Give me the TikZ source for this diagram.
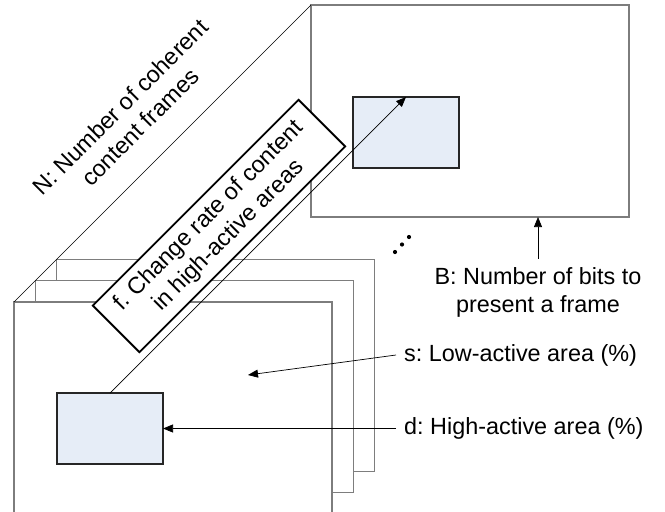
\documentclass[tikz,border=0pt]{standalone}
\usepackage{fontspec}
\setmainfont{Liberation Sans}
\usetikzlibrary{arrows.meta,calc}
\definecolor{areablue}{RGB}{230,237,247}
\definecolor{framegray}{RGB}{125,125,125}
\frenchspacing

\begin{document}
\begin{tikzpicture}[x=1pt, y=-1pt, every node/.style={font=\fontsize{23.4}{28}\selectfont},
  frame/.style={draw=framegray, line width=1.4pt, fill=white, minimum width=318pt, minimum height=212pt, inner sep=0pt, outer sep=0pt},
  area/.style={draw=black!85, line width=1.1pt, fill=areablue, minimum width=106pt, minimum height=71pt, inner sep=0pt, outer sep=0pt},
  lbl/.style={align=center, inner sep=8pt},
  arr/.style={-{Triangle[length=10pt,width=8pt]}, line width=0.7pt}]
\useasboundingbox (0,0) rectangle (665,512);
\node[frame, anchor=north west] (f0) at (311,5) {};
\node[area, anchor=north west] (a0) at ($(f0.north west)+(42,92)$) {};
\foreach \i/\x/\y in {3/56.6/259.4, 2/35.3/280.7, 1/14/302} \node[frame, anchor=north west] (f\i) at (\x,\y) {};
\node[area, anchor=north west] (a1) at ($(f1.north west)+(43,91)$) {};
\draw[line width=0.7pt] (f1.north west) -- (f0.north west);
\draw[arr] (a1.north) -- (a0.north);
\foreach \k in {0,1,2} \fill ($(395,252)+(7*\k,-7.5*\k)$) circle (2.1);
\node[lbl, rotate=45] (count) at (130,117) {N: Number of coherent\\content frames};
\node[lbl, draw, line width=1.8pt, fill=white, rotate=45, minimum width=291pt, minimum height=66pt, inner sep=2pt] (rate) at (219,226) {f. Change rate of content\\in high-active areas};
\node[lbl] (bits) at (538,292) {B: Number of bits to\\present a frame};
\draw[arr] (bits.north) -- (bits.north |- f0.south);
\node[lbl, anchor=west] (low) at (396,355) {s: Low-active area (\%)};
\coordinate (lowpt) at (248,375);
\draw[arr] (low.west) -- (lowpt);
\node[lbl, anchor=west] (high) at (396,428.5) {d: High-active area (\%)};
\draw[arr] (high.west) -- (a1.east);
\end{tikzpicture}
\end{document}
